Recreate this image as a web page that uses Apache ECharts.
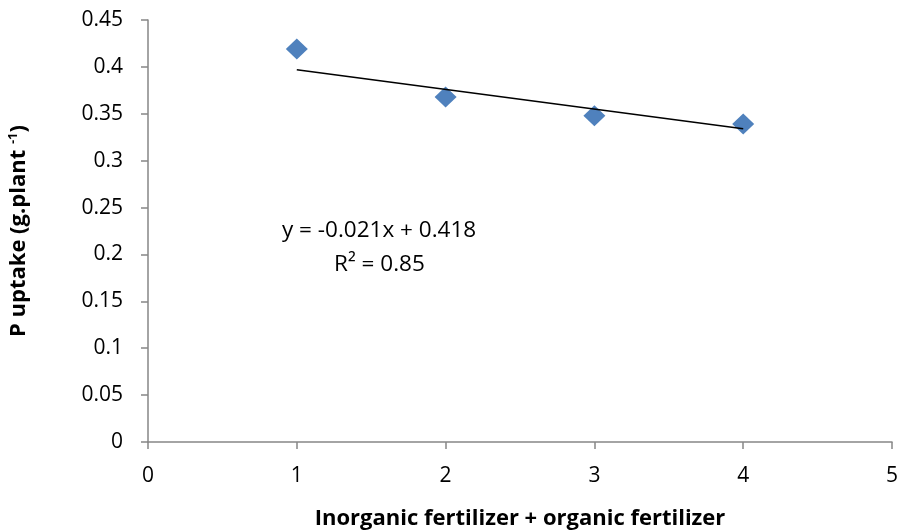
<!DOCTYPE html>
<html>
<head>
<meta charset="utf-8">
<script src="https://cdn.jsdelivr.net/npm/echarts@6/dist/echarts.min.js"></script>
<style>
  html, body { margin: 0; padding: 0; background: #fff; }
  #chart { width: 900px; height: 530px; }
</style>
</head>
<body>
<div id="chart"></div>
<script>
// measured points
var xValues = [1, 2, 3, 4];
var yValues = [0.419, 0.368, 0.348, 0.339];

// linear trend as printed on the chart
var trendSlope = -0.021;
var trendIntercept = 0.418;
var trendLabel = 'y = -0.021x + 0.418';
var r2Label = 'R² = 0.85';

var points = xValues.map(function (x, i) { return [x, yValues[i]]; });
var xFirst = xValues[0], xLast = xValues[xValues.length - 1];
var trendLine = [
    [xFirst, trendSlope * xFirst + trendIntercept],
    [xLast, trendSlope * xLast + trendIntercept]
];

var FONT = '"Open Sans", Lato, sans-serif';
var AXIS_GRAY = '#868686';

var chart = echarts.init(document.getElementById('chart'));
chart.setOption({
    animation: false,
    backgroundColor: '#fff',
    grid: { left: 148, right: 8, top: 20, bottom: 88, outerBoundsMode: 'none' },
    xAxis: {
        type: 'value',
        min: 0, max: 5, interval: 1,
        name: 'Inorganic fertilizer + organic fertilizer',
        nameLocation: 'middle',
        nameGap: 66,
        nameTextStyle: { fontFamily: FONT, fontWeight: 'bold', fontSize: 22, color: '#000' },
        axisLine: { show: true, lineStyle: { color: AXIS_GRAY, width: 1.5 } },
        axisTick: { show: true, inside: false, length: 7, lineStyle: { color: AXIS_GRAY, width: 1.5 } },
        axisLabel: { margin: 24, fontFamily: FONT, fontSize: 21, color: '#000' },
        splitLine: { show: false }
    },
    yAxis: {
        type: 'value',
        min: 0, max: 0.45, interval: 0.05,
        name: 'P uptake (g.plant {sup|-1})',
        nameLocation: 'middle',
        nameRotate: 90,
        nameGap: 118,
        nameTextStyle: {
            fontFamily: FONT, fontWeight: 'bold', fontSize: 22, color: '#000',
            rich: {
                sup: { fontFamily: FONT, fontWeight: 'bold', fontSize: 13, color: '#000', verticalAlign: 'top', padding: [0, 0, 10, 0] }
            }
        },
        axisLine: { show: true, lineStyle: { color: AXIS_GRAY, width: 1.5 } },
        axisTick: { show: true, inside: false, length: 7, lineStyle: { color: AXIS_GRAY, width: 1.5 } },
        axisLabel: {
            margin: 25, fontFamily: FONT, fontSize: 21, color: '#000',
            formatter: function (v) { return String(Math.round(v * 100) / 100); }
        },
        splitLine: { show: false }
    },
    series: [
        {
            name: 'trend',
            type: 'line',
            data: trendLine,
            symbol: 'none',
            lineStyle: { color: '#000', width: 1.6 },
            z: 3
        },
        {
            name: 'P uptake',
            type: 'scatter',
            data: points,
            symbol: 'diamond',
            symbolSize: [22, 21],
            itemStyle: { color: '#4F81BD', opacity: 1 },
            z: 2
        }
    ],
    graphic: [
        {
            type: 'text',
            left: 282, top: 219,
            style: { text: trendLabel, fontFamily: FONT, fontSize: 22.5, fill: '#000' }
        },
        {
            type: 'text',
            left: 334, top: 253,
            style: { text: r2Label, fontFamily: FONT, fontSize: 22.5, fill: '#000' }
        }
    ]
});
</script>
</body>
</html>
